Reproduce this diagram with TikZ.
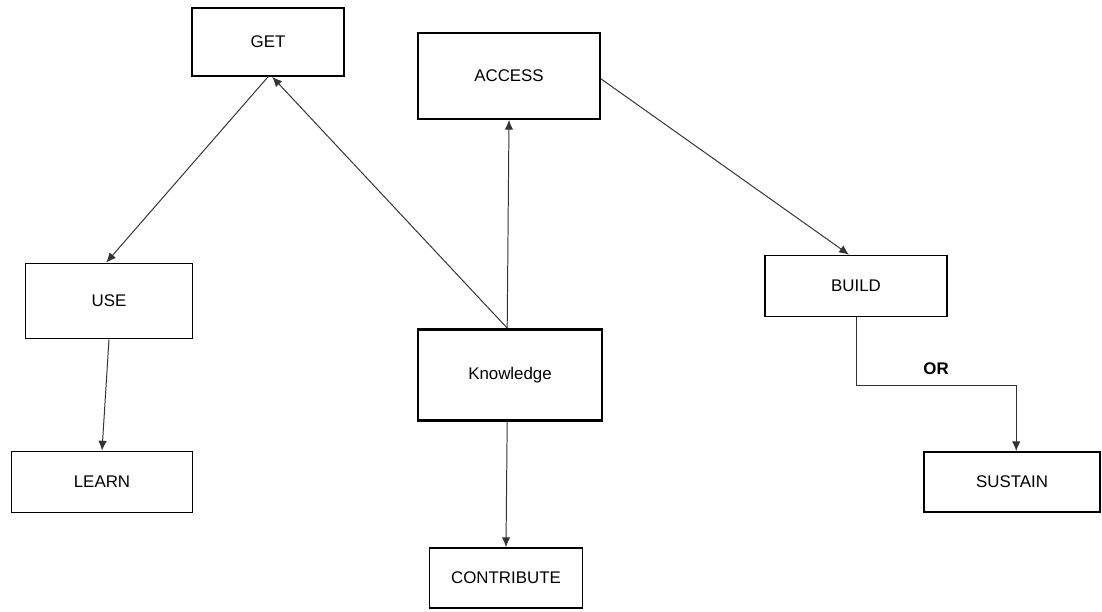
\documentclass[tikz,border=0pt]{standalone}
\usepackage{fontspec}
\setmainfont{Liberation Sans}
\usetikzlibrary{arrows,arrows.meta,calc,positioning}

\begin{document}
\begin{tikzpicture}[x=0.025cm,y=-0.025cm,
    box/.style={draw,line width=1.2pt,rectangle,inner sep=0pt,font=\fontsize{12}{14}\selectfont},
    link/.style={draw=black!80,line width=0.7pt,-{Latex[length=7pt,width=6pt]}}]

    \useasboundingbox (0,0) rectangle (1102,611);

    % boxes
    \node[box,minimum width=3.8cm,minimum height=1.7cm] (get) at (268,42) {GET};
    \node[box,minimum width=4.55cm,minimum height=2.15cm] (access) at (509,76) {ACCESS};
    \node[box,minimum width=4.175cm,minimum height=1.875cm] (use) at (109,301) {USE};
    \node[box,line width=2pt,minimum width=4.6cm,minimum height=2.275cm] (know) at (510,375) {Knowledge};
    \node[box,minimum width=4.55cm,minimum height=1.525cm] (build) at (856,286) {BUILD};
    \node[box,minimum width=4.525cm,minimum height=1.525cm] (learn) at (102,482) {LEARN};
    \node[box,minimum width=4.4cm,minimum height=1.5cm] (sustain) at (1012,482) {SUSTAIN};
    \node[box,minimum width=3.825cm,minimum height=1.5cm] (contrib) at (506,578) {CONTRIBUTE};

    % connectors
    \draw[link] ([xshift=-2pt]know.north) -- ([xshift=3pt]get.south);
    \draw[link] (get.south) -- ([xshift=-2pt]use.north);
    \draw[link] ([xshift=-2pt]know.north) -- (access.south);
    \draw[link] ([yshift=-2pt]access.east) -- ([xshift=-5pt]build.north);
    \draw[link] (use.south) -- (learn.north);
    \draw[link] ([xshift=-2pt]know.south) -- (contrib.north);
    \draw[link] (build.south) -- ++(0,68) -| node[pos=0.25,above=4pt,font=\bfseries\fontsize{12}{14}\selectfont] (or) {OR} ([xshift=3pt]sustain.north);
\end{tikzpicture}
\end{document}
